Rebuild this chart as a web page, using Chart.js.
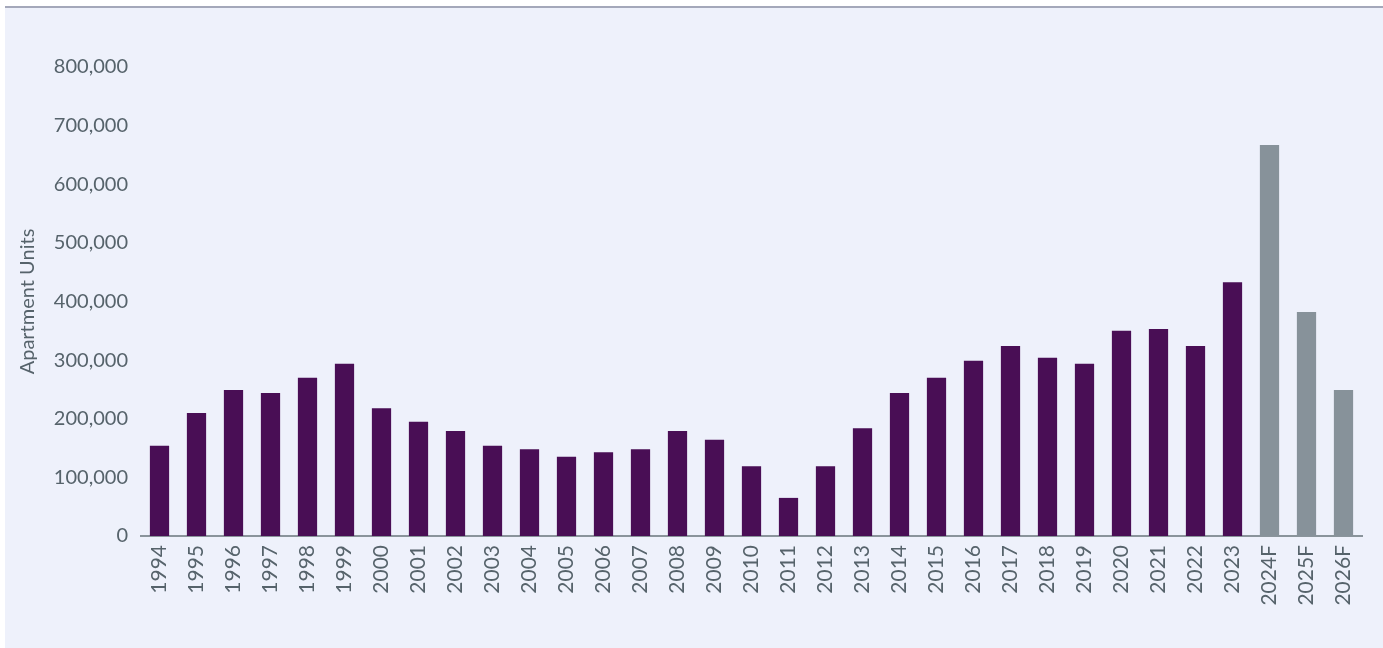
<!DOCTYPE html>
<html>
<head>
<meta charset="utf-8">
<script src="https://cdn.jsdelivr.net/npm/chart.js@4.4.1/dist/chart.umd.min.js"></script>
<style>
  html, body { margin: 0; padding: 0; background: #ffffff; }
  #panel {
    position: absolute; left: 5px; top: 6px; width: 1378px; height: 640px;
    background: #eef1fb; border-top: 2px solid #a4a8ba;
  }
  #wrap { position: absolute; left: 0; top: 0; width: 1383px; height: 648px; }
</style>
</head>
<body>
<div id="panel"></div>
<div id="wrap"><canvas id="ex_chart"></canvas></div>
<script>
var years = ['1994', '1995', '1996', '1997', '1998', '1999', '2000', '2001', '2002', '2003',
    '2004', '2005', '2006', '2007', '2008', '2009', '2010', '2011', '2012', '2013',
    '2014', '2015', '2016', '2017', '2018', '2019', '2020', '2021', '2022', '2023',
    '2024F', '2025F', '2026F'];
var units = [154000, 210000, 249000, 244000, 270000, 294000, 218000, 195000, 179000, 154000,
    148000, 135000, 143000, 148000, 179000, 164000, 119000, 65000, 119000, 184000,
    244000, 270000, 299000, 324000, 304000, 294000, 350000, 353000, 324000, 433000,
    667000, 382000, 249000];
var forecast = ['2024F', '2025F', '2026F'];
var yTicks = [0, 100000, 200000, 300000, 400000, 500000, 600000, 700000, 800000];

var purple = '#490e55';
var grey = '#87929a';
var textColor = '#56636b';

function InitializeGraph() {
    var ctx = document.getElementById('ex_chart');
    var colors = years.map(function (y) {
        return forecast.indexOf(y) >= 0 ? grey : purple;
    });

    var data = {
        labels: years,
        datasets: [{
            label: 'Apartment Units',
            data: units,
            backgroundColor: colors,
            borderWidth: 0,
            barPercentage: 0.52,
            categoryPercentage: 1.0
        }]
    };

    var config = {
        responsive: false,
        animation: false,
        layout: { padding: { top: 67, right: 21, bottom: 10, left: 5 } },
        plugins: { legend: { display: false }, tooltip: { enabled: false } },
        scales: {
            x: {
                grid: { display: false, drawTicks: false },
                border: { display: true, color: '#8a949b', width: 2 },
                ticks: {
                    color: textColor, font: { family: 'Lato', size: 21 },
                    minRotation: 90, maxRotation: 90, padding: 9, autoSkip: false
                },
                afterFit: function (scale) { scale.height = 102; }
            },
            y: {
                min: 0, max: 800000,
                grid: { display: false, drawTicks: false },
                border: { display: false },
                afterBuildTicks: function (scale) {
                    scale.ticks = yTicks.map(function (v) { return { value: v }; });
                },
                ticks: {
                    color: textColor, font: { family: 'Lato', size: 20 }, padding: 13,
                    callback: function (v) { return v.toLocaleString('en-US'); }
                },
                title: {
                    display: true, text: 'Apartment Units', color: textColor,
                    font: { family: 'Lato', size: 20 }, padding: { top: 11, bottom: 0 }
                },
                afterFit: function (scale) { scale.width = 136; }
            }
        }
    };

    ctx.width = 1383;
    ctx.height = 648;
    new Chart(ctx, { type: 'bar', data: data, options: config });
}

InitializeGraph();
</script>
</body>
</html>
